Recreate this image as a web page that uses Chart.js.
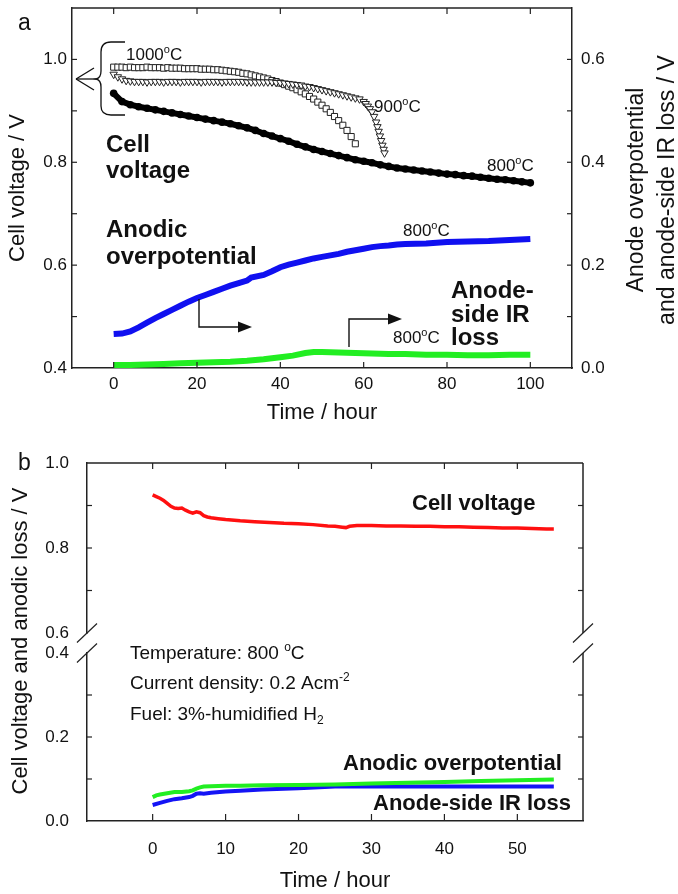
<!DOCTYPE html>
<html>
<head>
<meta charset="utf-8">
<script src="https://cdn.jsdelivr.net/npm/chart.js@4.4.0/dist/chart.umd.min.js"></script>
<style>
  html, body { margin: 0; padding: 0; background: #fff; }
  #wrap { position: relative; width: 678px; height: 894px; }
  canvas { position: absolute; left: 0; }
</style>
</head>
<body>
<div id="wrap">
  <canvas id="chartA" style="top:0" width="678" height="430"></canvas>
  <canvas id="chartBLow" style="top:430px" width="678" height="464"></canvas>
  <canvas id="chartBTop" style="top:430px" width="678" height="464"></canvas>
</div>
<script>
// ---- panel a data ----
const a800Hours = [0,2,4,6,8,10,12,14,16,18,20,22,24,26,28,30,32,34,36,38,40,42,44,46,48,50,52,54,56,58,60,62,64,66,68,70,72,74,76,78,80,82,84,86,88,90,92,94,96,98,100]
const a800Cell = [0.934,0.918,0.912,0.908,0.905,0.902,0.899,0.896,0.893,0.890,0.887,0.884,0.881,0.878,0.875,0.871,0.867,0.862,0.856,0.851,0.846,0.841,0.835,0.830,0.825,0.821,0.817,0.813,0.809,0.805,0.802,0.799,0.795,0.792,0.789,0.787,0.785,0.783,0.781,0.779,0.777,0.776,0.774,0.773,0.771,0.769,0.767,0.766,0.764,0.762,0.760]

const a1000Hours = [0,1,2,3,4,5,6,7,8,9,10,11,12,13,14,15,16,17,18,19,20,21,22,23,24,25,26,27,28,29,30,31,32,33,34,35,36,37,38,39,40,41,42,43,44,45,46,47,48,49,50,51,52,53,54,55,56,57,58]
const a1000Cell = [0.985,0.985,0.985,0.984,0.985,0.984,0.984,0.984,0.985,0.984,0.984,0.984,0.983,0.984,0.983,0.983,0.983,0.982,0.982,0.982,0.982,0.981,0.981,0.981,0.980,0.980,0.979,0.978,0.977,0.976,0.975,0.973,0.972,0.970,0.968,0.966,0.964,0.962,0.959,0.957,0.954,0.951,0.948,0.945,0.941,0.937,0.933,0.928,0.923,0.917,0.911,0.904,0.897,0.889,0.881,0.872,0.862,0.850,0.836]

const a900Hours = [0,1,2,3,4,5,6,7,8,9,10,11,12,13,14,15,16,17,18,19,20,21,22,23,24,25,26,27,28,29,30,31,32,33,34,35,36,37,38,39,40,41,42,43,44,45,46,47,48,49,50,51,52,53,54,55,56,57,58,59,60,60.5,61,61.5,62,62.5,63,63.3,63.6,63.9,64.2,64.5,64.8,65]
const a900Cell = [0.971,0.966,0.962,0.959,0.958,0.957,0.957,0.957,0.956,0.957,0.957,0.957,0.956,0.957,0.957,0.957,0.956,0.957,0.957,0.957,0.957,0.956,0.957,0.957,0.957,0.957,0.956,0.957,0.957,0.957,0.957,0.957,0.956,0.956,0.956,0.956,0.956,0.956,0.956,0.955,0.955,0.954,0.953,0.952,0.951,0.950,0.948,0.947,0.945,0.943,0.941,0.939,0.937,0.935,0.933,0.931,0.929,0.927,0.925,0.923,0.918,0.914,0.909,0.904,0.898,0.889,0.878,0.869,0.860,0.851,0.842,0.833,0.825,0.818]

const aOverHours = [0,2,4,6,8,10,12,14,16,18,20,22,24,26,28,30,32,33,36,38,40,42,44,46,48,50,52,54,56,58,60,62,64,66,68,70,75,80,85,90,95,100]
const aOverV = [0.066,0.067,0.071,0.079,0.088,0.097,0.105,0.113,0.121,0.129,0.136,0.142,0.148,0.154,0.160,0.165,0.170,0.176,0.181,0.188,0.196,0.201,0.205,0.209,0.213,0.216,0.219,0.222,0.226,0.229,0.232,0.235,0.237,0.238,0.240,0.241,0.242,0.245,0.246,0.247,0.249,0.251]

const aIrHours = [0,4,8,12,16,20,24,28,32,36,40,43,46,48,50,54,58,62,66,70,75,80,85,90,95,100]
const aIrV = [0.006,0.006,0.007,0.008,0.009,0.010,0.011,0.012,0.014,0.017,0.021,0.024,0.029,0.031,0.031,0.030,0.029,0.028,0.027,0.027,0.026,0.026,0.025,0.025,0.026,0.026]

const aXTicks = [0,20,40,60,80,100]
const aYTicks = [0.4,0.6,0.8,1.0]
const aY1Ticks = [0,0.2,0.4,0.6]
const aYMarks = [0.5,0.6,0.7,0.8,0.9,1.0]
const aY1Marks = [0.1,0.2,0.3,0.4,0.5,0.6]

// ---- panel b data ----
const bCellHours = [0,0.5,1,1.5,2,2.5,3,3.5,4,4.5,5,5.5,6,6.5,7,7.5,8,9,10,12,14,16,18,20,22,24,25,26,26.5,27,28,30,32,34,36,38,40,42,44,46,48,50,52,54,55]
const bCell = [0.925,0.921,0.917,0.912,0.905,0.898,0.894,0.893,0.894,0.889,0.885,0.882,0.885,0.883,0.876,0.873,0.871,0.869,0.867,0.864,0.862,0.860,0.858,0.857,0.855,0.852,0.851,0.849,0.848,0.851,0.853,0.853,0.852,0.852,0.851,0.851,0.850,0.850,0.849,0.848,0.847,0.847,0.846,0.845,0.845]

const bOverHours = [0,0.5,1,2,3,4,5,5.5,6,6.5,7,8,10,12,15,20,25,30,35,40,45,50,55]
const bOver = [0.057,0.061,0.063,0.066,0.069,0.069,0.071,0.073,0.077,0.080,0.082,0.083,0.084,0.084,0.085,0.086,0.087,0.089,0.091,0.093,0.095,0.097,0.099]

const bIrHours = [0,1,2,3,4,5,5.5,6,6.5,7,8,10,12,15,20,25,26.5,30,35,40,45,50,55]
const bIr = [0.038,0.043,0.048,0.052,0.054,0.057,0.060,0.065,0.066,0.065,0.067,0.070,0.072,0.075,0.078,0.082,0.083,0.082,0.082,0.082,0.082,0.082,0.082]

const bXTicks = [0,10,20,30,40,50]
const bYTopTicks = [0.6,0.8,1.0]
const bYLowTicks = [0,0.2,0.4]
const bYTopMarks = [0.7,0.8,0.9]
const bYLowMarks = [0.1,0.2,0.3]

// ---- helpers ----
const FAMILY = '"Liberation Sans", Arial, Helvetica, sans-serif'
Chart.defaults.font.family = FAMILY
Chart.defaults.color = '#111'

const pts = (xs, ys) => xs.map((x, i) => ({ x, y: ys[i] }))
const setTicks = list => s => { s.ticks = list.map(v => ({ value: v })) }
const oneDec = v => v.toFixed(1)

function seg(ctx, x1, y1, x2, y2) {
  ctx.beginPath(); ctx.moveTo(x1, y1); ctx.lineTo(x2, y2); ctx.stroke()
}
function hTicks(ctx, scale, values, yPix, dir, len) {
  values.forEach(v => { const p = scale.getPixelForValue(v); seg(ctx, p, yPix, p, yPix + dir * len) })
}
function vTicks(ctx, scale, values, xPix, dir, len) {
  values.forEach(v => { const p = scale.getPixelForValue(v); seg(ctx, xPix, p, xPix + dir * len, p) })
}
function font(size, bold) { return (bold ? 'bold ' : '') + size + 'px ' + FAMILY }
function txt(ctx, s, x, y, size, bold) {
  ctx.font = font(size, bold); ctx.textAlign = 'left'; ctx.textBaseline = 'alphabetic'
  ctx.fillText(s, x, y)
}
// parts: [text, 'sup' | 'sub' | undefined]
function rich(ctx, parts, x, y, size, bold) {
  let cx = x
  ctx.textAlign = 'left'; ctx.textBaseline = 'alphabetic'
  parts.forEach(([s, kind]) => {
    const sz = kind ? Math.round(size * 0.62) : size
    const dy = kind === 'sup' ? -size * 0.42 : kind === 'sub' ? size * 0.22 : 0
    ctx.font = font(sz, bold)
    ctx.fillText(s, cx, y + dy)
    cx += ctx.measureText(s).width
  })
}
function arrowHead(ctx, x, y) {
  ctx.beginPath(); ctx.moveTo(x, y); ctx.lineTo(x - 14, y - 5.5); ctx.lineTo(x - 14, y + 5.5); ctx.closePath(); ctx.fill()
}
function slash(ctx, cx, cy) { seg(ctx, cx - 10, cy + 9.5, cx + 10, cy - 9.5) }

const tickFont = { size: 17 }
const titleFont = { size: 22 }
const axisLine = { display: true, color: '#222', width: 1.5 }
const noGrid = { display: false, drawTicks: false }
const noPad = s => { s.paddingTop = 0; s.paddingBottom = 0; s.paddingLeft = 0; s.paddingRight = 0 }

// ---- panel a ----
const frameA = {
  id: 'frameA',
  afterDraw(chart) {
    const { ctx, chartArea: ca, scales: { x, y, y1 } } = chart
    ctx.save()
    ctx.strokeStyle = '#222'; ctx.fillStyle = '#111'; ctx.lineWidth = 1.5
    seg(ctx, ca.left, ca.top, ca.right, ca.top)
    ctx.lineWidth = 1.2
    hTicks(ctx, x, aXTicks, ca.bottom, -1, 6)
    hTicks(ctx, x, aXTicks, ca.top, 1, 6)
    vTicks(ctx, y, aYMarks, ca.left, 1, 5)
    vTicks(ctx, y1, aY1Marks, ca.right, -1, 5)

    // right axis title, two lines reading upwards
    ctx.save()
    ctx.translate(637, 190); ctx.rotate(-Math.PI / 2)
    ctx.font = font(23); ctx.textAlign = 'center'; ctx.textBaseline = 'middle'
    ctx.fillText('Anode overpotential', 0, 0)
    ctx.fillText('and anode-side IR loss / V', 0, 31)
    ctx.restore()

    // panel letter
    txt(ctx, 'a', 18, 30, 23)

    // brace with arrow pointing to the left axis
    ctx.lineWidth = 1.3; ctx.strokeStyle = '#111'
    ctx.beginPath()
    ctx.moveTo(125, 42); ctx.lineTo(111, 42)
    ctx.quadraticCurveTo(101, 42, 101, 52)
    ctx.lineTo(101, 71)
    ctx.quadraticCurveTo(101, 78, 96, 79)
    ctx.quadraticCurveTo(101, 80, 101, 87)
    ctx.lineTo(101, 106)
    ctx.quadraticCurveTo(101, 115, 111, 115)
    ctx.lineTo(125, 115)
    ctx.stroke()
    seg(ctx, 76, 79, 96, 79)
    seg(ctx, 76, 79, 94, 68)
    seg(ctx, 76, 79, 94, 90)

    // temperature labels
    rich(ctx, [['1000'], ['o', 'sup'], ['C']], 126, 60, 17)
    rich(ctx, [['900'], ['o', 'sup'], ['C']], 374, 112, 17)
    rich(ctx, [['800'], ['o', 'sup'], ['C']], 487, 171, 17)
    rich(ctx, [['800'], ['o', 'sup'], ['C']], 403, 236, 17)
    rich(ctx, [['800'], ['o', 'sup'], ['C']], 393, 343, 17)

    // bold series labels
    txt(ctx, 'Cell', 106, 152, 24, true)
    txt(ctx, 'voltage', 106, 178, 24, true)
    txt(ctx, 'Anodic', 106, 237, 24, true)
    txt(ctx, 'overpotential', 106, 264, 24, true)
    txt(ctx, 'Anode-', 451, 298, 24, true)
    txt(ctx, 'side IR', 451, 322, 24, true)
    txt(ctx, 'loss', 451, 345, 24, true)

    // elbow arrows to the right axis
    ctx.lineWidth = 1.4
    ctx.beginPath(); ctx.moveTo(199, 299); ctx.lineTo(199, 327); ctx.lineTo(240, 327); ctx.stroke()
    arrowHead(ctx, 252, 327)
    ctx.beginPath(); ctx.moveTo(349, 347); ctx.lineTo(349, 319); ctx.lineTo(390, 319); ctx.stroke()
    arrowHead(ctx, 402, 319)
    ctx.restore()
  }
}

new Chart(document.getElementById('chartA'), {
  type: 'line',
  data: {
    datasets: [
      { data: pts(a900Hours, a900Cell), yAxisID: 'y', showLine: false, pointStyle: 'triangle', pointRotation: 180,
        pointRadius: 4.3, pointBorderWidth: 1, pointBorderColor: '#222', pointBackgroundColor: '#fff', order: 1 },
      { data: pts(a1000Hours, a1000Cell), yAxisID: 'y', showLine: false, pointStyle: 'rect',
        pointRadius: 4.3, pointBorderWidth: 1, pointBorderColor: '#222', pointBackgroundColor: '#fff', order: 2 },
      { data: pts(a800Hours, a800Cell), yAxisID: 'y', borderColor: '#000', borderWidth: 6,
        pointRadius: 3.8, pointBorderWidth: 0, pointBackgroundColor: '#000', order: 3 },
      { data: pts(aOverHours, aOverV), yAxisID: 'y1', borderColor: '#1010f0', borderWidth: 6, pointRadius: 0, order: 4 },
      { data: pts(aIrHours, aIrV), yAxisID: 'y1', borderColor: '#22ee22', borderWidth: 6, pointRadius: 0, order: 5 }
    ]
  },
  options: {
    responsive: false, animation: false,
    plugins: { legend: { display: false }, tooltip: { enabled: false } },
    layout: { padding: { top: 8, left: 0, right: 0, bottom: 0 } },
    scales: {
      x: {
        type: 'linear', min: -10, max: 110, grid: noGrid, border: axisLine,
        afterBuildTicks: setTicks(aXTicks),
        afterFit: s => { noPad(s); s.height = 62 },
        ticks: { font: tickFont, color: '#111', padding: 6, callback: v => String(v) },
        title: { display: true, text: 'Time / hour', font: titleFont, color: '#111', padding: { top: 0, bottom: 4 } }
      },
      y: {
        position: 'left', min: 0.4, max: 1.1, grid: noGrid, border: axisLine,
        afterBuildTicks: setTicks(aYTicks),
        afterFit: s => { noPad(s); s.width = 72 },
        ticks: { font: tickFont, color: '#111', padding: 5, callback: oneDec },
        title: { display: true, text: 'Cell voltage / V', font: titleFont, color: '#111', padding: { top: 5, bottom: 0 } }
      },
      y1: {
        position: 'right', min: 0, max: 0.7, grid: noGrid, border: axisLine,
        afterBuildTicks: setTicks(aY1Ticks),
        afterFit: s => { noPad(s); s.width = 106 },
        ticks: { font: tickFont, color: '#111', padding: 9, callback: oneDec }
      }
    }
  },
  plugins: [frameA]
})

// ---- panel b, lower part (0 - 0.4) ----
const frameBLow = {
  id: 'frameBLow',
  afterDraw(chart) {
    const { ctx, chartArea: ca, scales: { x, y } } = chart
    ctx.save()
    ctx.strokeStyle = '#222'; ctx.fillStyle = '#111'; ctx.lineWidth = 1.5
    seg(ctx, ca.right, ca.top, ca.right, ca.bottom)
    ctx.lineWidth = 1.2
    hTicks(ctx, x, bXTicks, ca.bottom, -1, 7)
    vTicks(ctx, y, bYLowMarks, ca.left, 1, 5)
    vTicks(ctx, y, bYLowMarks, ca.right, -1, 5)
    slash(ctx, ca.left, ca.top)
    slash(ctx, ca.right, ca.top)

    ctx.translate(0, -430)
    rich(ctx, [['Temperature: 800 '], ['o', 'sup'], ['C']], 130, 659, 19)
    rich(ctx, [['Current density: 0.2 Acm'], ['-2', 'sup']], 130, 689, 19)
    rich(ctx, [['Fuel: 3%-humidified H'], ['2', 'sub']], 130, 720, 19)
    txt(ctx, 'Anodic overpotential', 343, 770, 22, true)
    txt(ctx, 'Anode-side IR loss', 373, 810, 22, true)
    ctx.restore()
  }
}

new Chart(document.getElementById('chartBLow'), {
  type: 'line',
  data: {
    datasets: [
      { data: pts(bOverHours, bOver), borderColor: '#22ee22', borderWidth: 4, pointRadius: 0, order: 1 },
      { data: pts(bIrHours, bIr), borderColor: '#1414f5', borderWidth: 4, pointRadius: 0, order: 2 }
    ]
  },
  options: {
    responsive: false, animation: false,
    plugins: { legend: { display: false }, tooltip: { enabled: false } },
    layout: { padding: { top: 223, left: 0, right: 95, bottom: 0 } },
    scales: {
      x: {
        type: 'linear', min: -9, max: 59, grid: noGrid, border: axisLine,
        afterBuildTicks: setTicks(bXTicks),
        afterFit: s => { noPad(s); s.height = 73 },
        ticks: { font: tickFont, color: '#111', padding: 18, callback: v => String(v) },
        title: { display: true, text: 'Time / hour', font: titleFont, color: '#111', padding: { top: 0, bottom: 0 } }
      },
      y: {
        position: 'left', min: 0, max: 0.4, grid: noGrid, border: axisLine,
        afterBuildTicks: setTicks(bYLowTicks),
        afterFit: s => { noPad(s); s.width = 87 },
        ticks: { font: tickFont, color: '#111', padding: 18, callback: oneDec }
      }
    }
  },
  plugins: [frameBLow]
})

// ---- panel b, upper part (0.6 - 1.0) ----
const frameBTop = {
  id: 'frameBTop',
  afterDraw(chart) {
    const { ctx, chartArea: ca, scales: { x, y } } = chart
    ctx.save()
    ctx.strokeStyle = '#222'; ctx.fillStyle = '#111'; ctx.lineWidth = 1.5
    seg(ctx, ca.left, ca.top, ca.right, ca.top)
    seg(ctx, ca.right, ca.top, ca.right, ca.bottom)
    ctx.lineWidth = 1.2
    hTicks(ctx, x, bXTicks, ca.top, 1, 6)
    vTicks(ctx, y, bYTopMarks, ca.left, 1, 5)
    vTicks(ctx, y, bYTopMarks, ca.right, -1, 5)
    slash(ctx, ca.left, ca.bottom)
    slash(ctx, ca.right, ca.bottom)

    ctx.translate(0, -430)
    txt(ctx, 'b', 18, 470, 23)
    txt(ctx, 'Cell voltage', 412, 510, 22, true)

    ctx.save()
    ctx.translate(21, 641); ctx.rotate(-Math.PI / 2)
    ctx.font = font(22); ctx.textAlign = 'center'; ctx.textBaseline = 'middle'
    ctx.fillText('Cell voltage and anodic loss / V', 0, 0)
    ctx.restore()
    ctx.restore()
  }
}

new Chart(document.getElementById('chartBTop'), {
  type: 'line',
  data: {
    datasets: [
      { data: pts(bCellHours, bCell), borderColor: '#ff1010', borderWidth: 3.5, pointRadius: 0 }
    ]
  },
  options: {
    responsive: false, animation: false,
    plugins: { legend: { display: false }, tooltip: { enabled: false } },
    layout: { padding: { top: 33, left: 0, right: 95, bottom: 261 } },
    scales: {
      x: { type: 'linear', min: -9, max: 59, display: false },
      y: {
        position: 'left', min: 0.6, max: 1.0, grid: noGrid, border: axisLine,
        afterBuildTicks: setTicks(bYTopTicks),
        afterFit: s => { noPad(s); s.width = 87 },
        ticks: { font: tickFont, color: '#111', padding: 18, callback: oneDec }
      }
    }
  },
  plugins: [frameBTop]
})
</script>
</body>
</html>
